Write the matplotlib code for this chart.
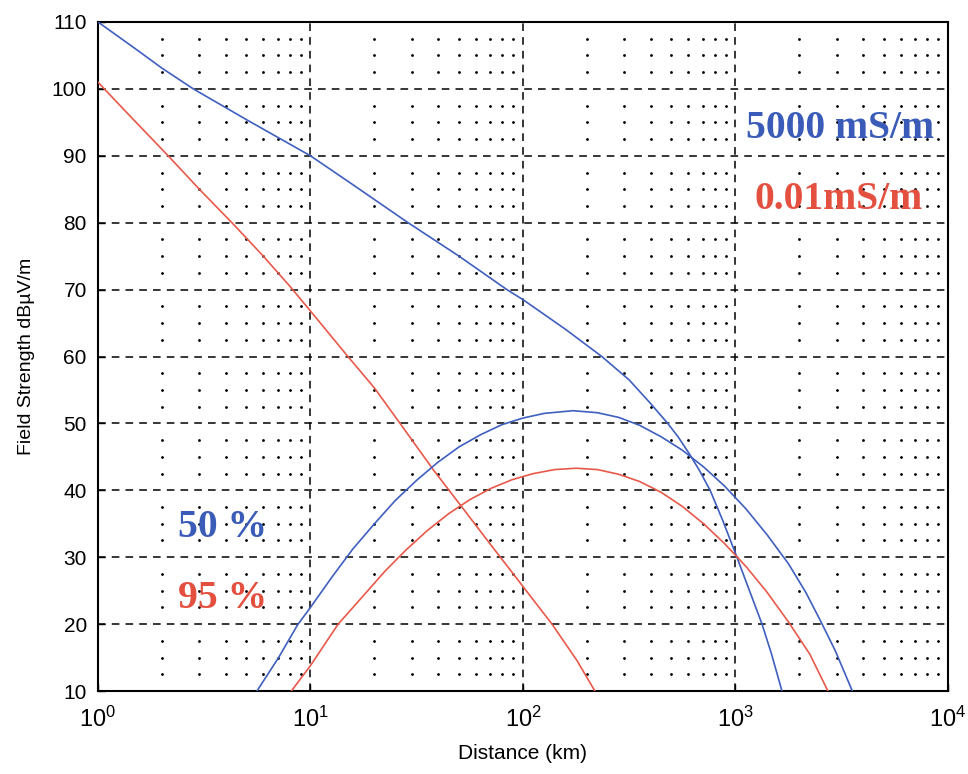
import numpy as np
import matplotlib
matplotlib.use('Agg')
import matplotlib.pyplot as plt
from matplotlib.ticker import MultipleLocator, LogLocator

plt.rcParams['font.family'] = ['Liberation Sans', 'DejaVu Sans']
plt.rcParams['mathtext.fontset'] = 'custom'
plt.rcParams['mathtext.rm'] = 'Liberation Sans'

# values (distance km, field strength dBuV/m)
blue_dist = [1, 1.5, 2, 2.81, 5, 10, 15.8, 28.8, 50, 84, 100, 158, 235, 316, 398, 480, 537, 611,
             676, 760, 871, 1016, 1148, 1334, 1479, 1655]
blue_fs = [110, 106, 103.1, 100, 95.4, 90, 85.7, 80, 75, 70, 68.5, 64.1, 60, 56.5, 53, 50, 48, 45.3,
           43, 40, 35.5, 30, 25.5, 20, 15.5, 10]

red_dist = [1, 1.41, 2.14, 3, 4.27, 6, 8, 10, 15, 20, 26.4, 38, 51.6, 70, 94.7, 137, 180, 218]
red_fs = [101, 96, 90, 85, 80, 75, 70.5, 66.8, 60, 55.3, 50, 43, 37.5, 32, 26.6, 20, 14.5, 10]

blue_arch_dist = [5.6, 7.08, 8.7, 10, 12.6, 15.8, 20, 25.1, 31.6, 39.8, 50.1, 63.1, 79.4, 100, 126,
                  172, 224, 282, 355, 447, 562, 708, 891, 1122, 1413, 1778, 2138, 2512, 2951, 3548]
blue_arch_fs = [10, 15, 19.9, 22.5, 27, 31.2, 35, 38.5, 41.5, 44.2, 46.5, 48.3, 49.8, 50.8, 51.5,
                51.9, 51.6, 50.9, 49.7, 48, 46, 43.5, 40.6, 37.2, 33.3, 29, 24.8, 20.5, 16, 10]

red_arch_dist = [8.13, 10, 13.5, 17.8, 22.4, 28.2, 35.5, 44.7, 56.2, 70.8, 89.1, 112, 141, 178, 224,
                 282, 355, 447, 562, 708, 891, 1122, 1413, 1778, 2239, 2723]
red_arch_fs = [10, 13.8, 20, 24.3, 27.9, 31.1, 34, 36.5, 38.6, 40.3, 41.6, 42.5, 43.1, 43.3, 43.1,
               42.4, 41.3, 39.7, 37.6, 35, 32, 28.6, 24.7, 20.3, 15.5, 10]

blue = '#3f5fbf'
red = '#e8594a'

fig = plt.figure(figsize=(9.68, 7.74), dpi=100)
ax = fig.add_axes([0.1012, 0.1072, 0.8781, 0.8644])

ax.set_xscale('log')
ax.set_xlim(1, 1e4)
ax.set_ylim(10, 110)
ax.yaxis.set_major_locator(MultipleLocator(10))
ax.yaxis.set_minor_locator(MultipleLocator(2.5))
ax.xaxis.set_minor_locator(LogLocator(base=10, subs=np.arange(2, 10)))

# major grid dashed, minor grid only as dots at crossings
ax.grid(True, which='major', color='black', linestyle=(0, (5, 4)), linewidth=1.1)
xm = [v for v in ax.xaxis.get_minorticklocs() if 1 < v < 1e4]
ym = [v for v in ax.yaxis.get_minorticklocs() if v % 10 != 0 and 10 < v < 110]
gx, gy = np.meshgrid(xm, ym)
ax.plot(gx.ravel(), gy.ravel(), 'k.', markersize=2, zorder=1)

ax.plot(blue_dist, blue_fs, color=blue, linewidth=1.2, zorder=3)
ax.plot(red_dist, red_fs, color=red, linewidth=1.2, zorder=3)
ax.plot(blue_arch_dist, blue_arch_fs, color=blue, linewidth=1.2, zorder=3)
ax.plot(red_arch_dist, red_arch_fs, color=red, linewidth=1.2, zorder=3)

tfont = dict(family='Liberation Serif', fontweight='bold', fontsize=28.5)
ax.text(0.984, 0.8415, '5000 mS/m', color='#3a5cb8', ha='right', va='center', transform=ax.transAxes, **tfont)
ax.text(0.970, 0.734, '0.01mS/m', color='#e4503f', ha='right', va='center', transform=ax.transAxes, **tfont)
ax.text(0.094, 0.245, '50 %', color='#3a5cb8', ha='left', va='center', transform=ax.transAxes, **tfont)
ax.text(0.094, 0.139, '95 %', color='#e4503f', ha='left', va='center', transform=ax.transAxes, **tfont)

ax.tick_params(which='major', direction='in', length=5, width=1, labelsize=15, pad=8)
ax.tick_params(axis='x', which='major', labelsize=17, pad=11)
ax.tick_params(which='minor', length=0)
for s in ax.spines.values():
    s.set_linewidth(1.5)

ax.set_xlabel('Distance (km)', fontsize=15, labelpad=9)
ax.set_ylabel('Field Strength dBµV/m', fontsize=14, labelpad=12)

fig.savefig('out.png', dpi=100)
